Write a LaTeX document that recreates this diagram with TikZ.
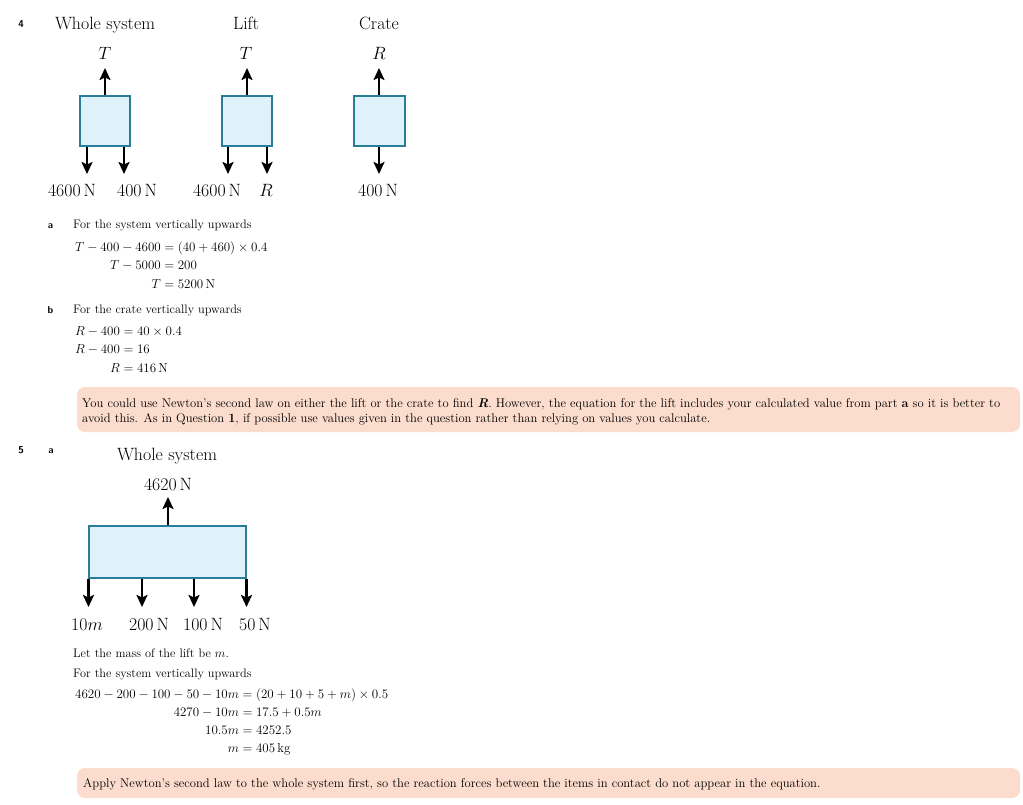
\RequirePackage{fix-cm}
\documentclass[tikz,border=0pt]{standalone}
\usepackage{amsmath}
\usepackage{fontspec}
\usetikzlibrary{arrows.meta}
\definecolor{bodyfill}{RGB}{223,242,252}
\definecolor{bodyedge}{RGB}{42,125,150}
\definecolor{notefill}{RGB}{252,221,205}
\def\qnum#1{{\fontsize{10}{12}\selectfont\sffamily\bfseries #1}}
\setlength{\jot}{2.8pt}

\begin{document}
\begin{tikzpicture}[x=1pt, y=-1pt,
	body/.style={draw=bodyedge, fill=bodyfill, line width=2pt, inner sep=0pt},
	force/.style={line width=2.2pt, -{Stealth[length=12pt, width=11pt, inset=2.5pt]}},
	big/.style={font=\fontsize{17.8}{21}\selectfont, inner sep=0pt, anchor=base},
	txt/.style={font=\fontsize{12.3}{14.5}\selectfont, inner sep=0pt, anchor=base west},
	eqn/.style={font=\fontsize{13}{15.5}\selectfont, inner sep=0pt, anchor=base west},
	notetxt/.style={font=\fontsize{12.6}{14.5}\selectfont, inner sep=0pt, anchor=base west},
	note/.style={fill=notefill, rounded corners=8pt}]
			%%%%% START %%%%%
			
			\fill[white] (0, 0) rectangle (1023, 805);
			\useasboundingbox (0, 0) rectangle (1023, 805);
			
			%% question 4: force diagrams
			\node[inner sep=0pt, anchor=base] (q4) at (21, 28) {\qnum{4}};
			\node[big] (wsysname) at (105, 29.5) {Whole system};
			\node[big] (liftname) at (246, 29.5) {Lift};
			\node[big] (cratename) at (379, 29.5) {Crate};
			
			\node[body, minimum width=50pt, minimum height=50pt] (wsys) at (105, 121) {};
			\node[body, minimum width=50pt, minimum height=50pt] (lift) at (247, 121) {};
			\node[body, minimum width=51pt, minimum height=50pt] (crate) at (379.5, 121) {};
			
			\coordinate (wsysT) at (105, 68);
			\coordinate (wsysA) at (87, 174);
			\coordinate (wsysB) at (124, 174);
			\draw[force] (wsys.north -| wsysT) -- (wsysT);
			\draw[force] (wsys.south -| wsysA) -- (wsysA);
			\draw[force] (wsys.south -| wsysB) -- (wsysB);
			
			\coordinate (liftT) at (247, 68);
			\coordinate (liftA) at (228, 174);
			\coordinate (liftB) at (267, 174);
			\draw[force] (lift.north -| liftT) -- (liftT);
			\draw[force] (lift.south -| liftA) -- (liftA);
			\draw[force] (lift.south -| liftB) -- (liftB);
			
			\coordinate (crateR) at (379, 68);
			\coordinate (crateW) at (379, 174);
			\draw[force] (crate.north -| crateR) -- (crateR);
			\draw[force] (crate.south -| crateW) -- (crateW);
			
			\node[big] (wsysTlab) at (105, 60) {$T$};
			\node[big] (liftTlab) at (246, 60) {$T$};
			\node[big] (crateRlab) at (379, 60) {$R$};
			\node[big] (wsysAlab) at (72, 197) {4600\,N};
			\node[big] (wsysBlab) at (137, 197) {400\,N};
			\node[big] (liftAlab) at (217, 197) {4600\,N};
			\node[big] (liftBlab) at (266, 197) {$R$};
			\node[big] (crateWlab) at (378, 197) {400\,N};
			
			%% question 4 working
			\node[inner sep=0pt, anchor=base] (q4a) at (50.5, 229) {\qnum{a}};
			\node[txt] (q4atext) at (73, 229) {For the system vertically upwards};
			\node[eqn] (q4aeq) at (75, 251.5) {$\begin{aligned}[t]
				T-400-4600 &= (40+460)\times 0.4\\
				T-5000 &= 200\\
				T &= 5200\,\mathrm{N}
			\end{aligned}$};
			
			\node[inner sep=0pt, anchor=base] (q4b) at (50.5, 313) {\qnum{b}};
			\node[txt] (q4btext) at (73, 313) {For the crate vertically upwards};
			\node[eqn] (q4beq) at (75, 335.5) {$\begin{aligned}[t]
				R-400 &= 40\times 0.4\\
				R-400 &= 16\\
				R &= 416\,\mathrm{N}
			\end{aligned}$};
			
			\fill[note] (77, 387) rectangle (1020, 432);
			\node[notetxt] (note4a) at (82, 407) {You could use Newton's second law on either the lift or the crate to find \textbf{\textit{R}}. However, the equation for the lift includes your calculated value from part \textbf{a} so it is better to};
			\node[notetxt] (note4b) at (82, 422) {avoid this. As in Question \textbf{1}, if possible use values given in the question rather than relying on values you calculate.};
			
			%% question 5
			\node[inner sep=0pt, anchor=base] (q5) at (21, 453) {\qnum{5}};
			\node[inner sep=0pt, anchor=base] (q5a) at (51, 453) {\qnum{a}};
			\node[big] (allname) at (167, 460) {Whole system};
			
			\node[body, minimum width=157pt, minimum height=52pt] (all) at (167.5, 552) {};
			\coordinate (allT) at (168, 497);
			\coordinate (allA) at (88.5, 607);
			\coordinate (allB) at (142, 607);
			\coordinate (allC) at (194, 607);
			\coordinate (allD) at (246.5, 607);
			\draw[force] (all.north -| allT) -- (allT);
			\draw[force] (all.south -| allA) -- (allA);
			\draw[force] (all.south -| allB) -- (allB);
			\draw[force] (all.south -| allC) -- (allC);
			\draw[force] (all.south -| allD) -- (allD);
			
			\node[big] (allTlab) at (168, 490) {4620\,N};
			\node[big] (allAlab) at (87, 630.5) {10$m$};
			\node[big] (allBlab) at (149, 630.5) {200\,N};
			\node[big] (allClab) at (203, 630.5) {100\,N};
			\node[big] (allDlab) at (255, 630.5) {50\,N};
			
			\node[txt] (q5text) at (73, 657) {Let the mass of the lift be $m$.};
			\node[txt] (q5atext) at (73, 677) {For the system vertically upwards};
			\node[eqn] (q5aeq) at (75, 698) {$\begin{aligned}[t]
				4620-200-100-50-10m &= (20+10+5+m)\times 0.5\\
				4270-10m &= 17.5+0.5m\\
				10.5m &= 4252.5\\
				m &= 405\,\mathrm{kg}
			\end{aligned}$};
			
			\fill[note] (77, 768) rectangle (1020, 798);
			\node[notetxt] (note5) at (83, 787) {Apply Newton's second law to the whole system first, so the reaction forces between the items in contact do not appear in the equation.};
			
			%%%%% END %%%%%
\end{tikzpicture}
\end{document}
